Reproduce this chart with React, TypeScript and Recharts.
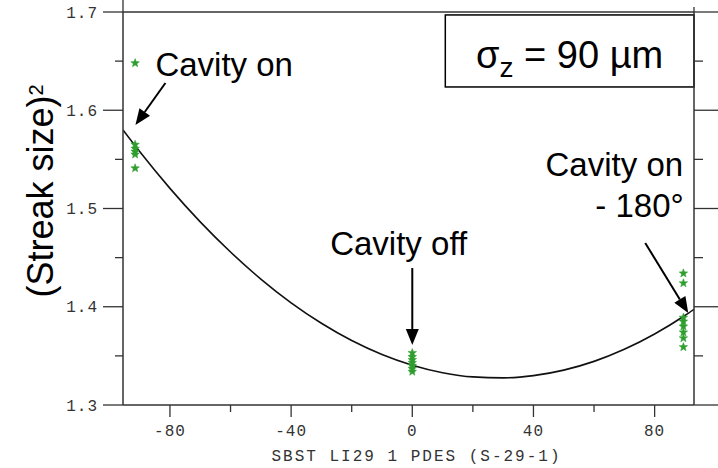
import React from "react";
import {
  ComposedChart,
  Line,
  Scatter,
  XAxis,
  YAxis,
  ReferenceLine,
  ReferenceDot,
  ReferenceArea,
} from "recharts";

// fitted parabola through the streak measurements
const curveX = [-95.5, -90, -80, -70, -60, -50, -40, -30, -20, -10, 0, 10, 20, 30, 40, 50, 60, 70, 80, 90, 93];
const curveY = [1.58, 1.558, 1.5205, 1.4864, 1.4557, 1.4282, 1.404, 1.3832, 1.3656, 1.3514, 1.3405, 1.3329, 1.3286, 1.3276, 1.3299, 1.3355, 1.3444, 1.3567, 1.3723, 1.3911, 1.3974];

// measured points at the three phase settings
const cavityOnX = -91.5;
const cavityOnY = [1.648, 1.565, 1.561, 1.558, 1.555, 1.541];
const cavityOffX = 0;
const cavityOffY = [1.353, 1.349, 1.346, 1.343, 1.34, 1.337, 1.334];
const cavityFlipX = 89.5;
const cavityFlipY = [1.434, 1.424, 1.389, 1.385, 1.38, 1.374, 1.368, 1.359];

const xMajor = [-80, -40, 0, 40, 80];
const xMinor = [-60, -20, 20, 60];
const yMajor = [1.3, 1.4, 1.5, 1.6, 1.7];
const yMinor = [1.35, 1.45, 1.55, 1.65];

const curve = curveX.map((x, i) => ({ x, y: curveY[i] }));
const points = [
  ...cavityOnY.map((y) => ({ x: cavityOnX, y })),
  ...cavityOffY.map((y) => ({ x: cavityOffX, y })),
  ...cavityFlipY.map((y) => ({ x: cavityFlipX, y })),
];

const xTicks = [...xMajor, ...xMinor].sort((a, b) => a - b);
const yTicks = [...yMajor, ...yMinor].sort((a, b) => a - b);

const AXIS = "#333";
const MONO = "'Liberation Mono', 'Courier New', monospace";
const SANS = "'Liberation Sans', Arial, sans-serif";
const GREEN = "#2f9e2f";

const isMajorX = (v: number) => xMajor.includes(v);
const isMajorY = (v: number) => yMajor.some((m) => Math.abs(m - v) < 1e-6);

const BottomTick = ({ x, y, payload }: any) => {
  const major = isMajorX(payload.value);
  return (
    <g>
      <line x1={x} y1={y} x2={x} y2={y + (major ? 12 : 7)} stroke={AXIS} strokeWidth={1.3} />
      {major && (
        <text x={x} y={y + 31} textAnchor="middle" fontFamily={MONO} fontSize={16} letterSpacing={1} fill="#333">
          {payload.value}
        </text>
      )}
    </g>
  );
};

const TopTick = ({ x, y, payload }: any) => {
  const major = isMajorX(payload.value);
  return <line x1={x} y1={y} x2={x} y2={y - (major ? 14 : 5)} stroke={AXIS} strokeWidth={1.3} />;
};

const LeftTick = ({ x, y, payload }: any) => {
  const major = isMajorY(payload.value);
  return (
    <g>
      <line x1={x} y1={y} x2={x - (major ? 20 : 8)} y2={y} stroke={AXIS} strokeWidth={1.3} />
      {major && (
        <text x={x - 25} y={y} dy="0.35em" textAnchor="end" fontFamily={MONO} fontSize={16} letterSpacing={1} fill="#333">
          {payload.value.toFixed(1)}
        </text>
      )}
    </g>
  );
};

const RightTick = ({ x, y, payload }: any) => {
  const major = isMajorY(payload.value);
  return <line x1={x} y1={y} x2={x + (major ? 24 : 9)} y2={y} stroke={AXIS} strokeWidth={1.3} />;
};

const Star = ({ cx, cy }: any) => {
  const pts: string[] = [];
  for (let i = 0; i < 10; i++) {
    const r = i % 2 === 0 ? 4.5 : 1.9;
    const a = -Math.PI / 2 + (i * Math.PI) / 5;
    pts.push(`${cx + r * Math.cos(a)},${cy + r * Math.sin(a)}`);
  }
  return <polygon points={pts.join(" ")} fill={GREEN} stroke={GREEN} strokeWidth={0.5} />;
};

const Arrow = ({ x1, y1, x2, y2 }: any) => {
  const ang = Math.atan2(y2 - y1, x2 - x1);
  const len = 16;
  const half = 6.5;
  const bx = x2 - len * Math.cos(ang);
  const by = y2 - len * Math.sin(ang);
  const px = -Math.sin(ang) * half;
  const py = Math.cos(ang) * half;
  return (
    <g>
      <line x1={x1} y1={y1} x2={bx} y2={by} stroke="#000" strokeWidth={2} />
      <polygon points={`${x2},${y2} ${bx + px},${by + py} ${bx - px},${by - py}`} fill="#000" />
    </g>
  );
};

const note = (label: string, anchor: "start" | "end") => ({ cx, cy }: any) => (
  <text x={cx} y={cy} textAnchor={anchor} fontFamily={SANS} fontSize={33} fill="#000">
    {label}
  </text>
);

const SigmaBox = ({ x, y, width, height }: any) => (
  <g>
    <rect x={x} y={y} width={width} height={height} fill="#fff" stroke="#000" strokeWidth={1.5} />
    <text x={x + width / 2} y={y + 53} textAnchor="middle" fontFamily={SANS} fontSize={38} fill="#000">
      σ<tspan fontSize={28} dy={9}>z</tspan>
      <tspan dy={-9}> = 90 µm</tspan>
    </text>
  </g>
);

const YTitle = ({ viewBox }: any) => {
  const cx = viewBox.x + 53;
  const cy = 191;
  return (
    <text x={cx} y={cy} transform={`rotate(-90 ${cx} ${cy})`} textAnchor="middle" fontFamily={SANS} fontSize={36} fill="#000">
      (Streak size)<tspan fontSize={20} dy={-10}>2</tspan>
    </text>
  );
};

const XTitle = ({ viewBox }: any) => (
  <text
    x={viewBox.x + viewBox.width / 2 + 8}
    y={viewBox.y + 56}
    textAnchor="middle"
    fontFamily={MONO}
    fontSize={16}
    letterSpacing={2}
    fill="#333"
  >
    SBST LI29 1 PDES (S-29-1)
  </text>
);

export default function App() {
  return (
    <div style={{ position: "absolute", left: 0, top: 0, background: "#fff" }}>
      <ComposedChart width={718} height={468} data={curve} margin={{ top: 0, right: 0, bottom: 0, left: 0 }}>
        <XAxis
          dataKey="x"
          type="number"
          domain={[-95.5, 93]}
          ticks={xTicks}
          interval={0}
          allowDataOverflow
          height={63}
          tickSize={0}
          tickMargin={0}
          tick={<BottomTick />}
          axisLine={{ stroke: AXIS, strokeWidth: 1.5 }}
          label={{ content: <XTitle /> }}
        />
        <XAxis
          xAxisId="top"
          orientation="top"
          type="number"
          domain={[-95.5, 93]}
          ticks={xTicks}
          interval={0}
          allowDataOverflow
          height={12}
          tickSize={0}
          tickMargin={0}
          tick={<TopTick />}
          axisLine={{ stroke: AXIS, strokeWidth: 1.5 }}
        />
        <YAxis
          type="number"
          domain={[1.3, 1.7]}
          ticks={yTicks}
          interval={0}
          allowDataOverflow
          width={123}
          tickSize={0}
          tickMargin={0}
          tick={<LeftTick />}
          axisLine={{ stroke: AXIS, strokeWidth: 1.5 }}
          label={{ content: <YTitle /> }}
        />
        <YAxis
          yAxisId="right"
          orientation="right"
          type="number"
          domain={[1.3, 1.7]}
          ticks={yTicks}
          interval={0}
          allowDataOverflow
          width={24}
          tickSize={0}
          tickMargin={0}
          tick={<RightTick />}
          axisLine={{ stroke: AXIS, strokeWidth: 1.5 }}
        />

        <ReferenceArea x1={10.9} x2={93} y1={1.6237} y2={1.697} ifOverflow="visible" shape={<SigmaBox />} />

        <Line
          dataKey="y"
          type="monotone"
          stroke="#111"
          strokeWidth={1.6}
          dot={false}
          activeDot={false}
          isAnimationActive={false}
        />
        <Scatter data={points} dataKey="y" shape={<Star />} isAnimationActive={false} />

        <ReferenceLine segment={[{ x: -81.5, y: 1.6277 }, { x: -91.4, y: 1.585 }]} ifOverflow="visible" shape={<Arrow />} />
        <ReferenceLine segment={[{ x: 0, y: 1.4394 }, { x: 0, y: 1.3611 }]} ifOverflow="visible" shape={<Arrow />} />
        <ReferenceLine segment={[{ x: 76.9, y: 1.4649 }, { x: 91.1, y: 1.3936 }]} ifOverflow="visible" shape={<Arrow />} />

        <ReferenceDot x={-84.8} y={1.6349} r={0} ifOverflow="visible" shape={note("Cavity on", "start")} />
        <ReferenceDot x={-27.1} y={1.4527} r={0} ifOverflow="visible" shape={note("Cavity off", "start")} />
        <ReferenceDot x={89.4} y={1.5331} r={0} ifOverflow="visible" shape={note("Cavity on", "end")} />
        <ReferenceDot x={89.6} y={1.4914} r={0} ifOverflow="visible" shape={note("- 180°", "end")} />
      </ComposedChart>
    </div>
  );
}
